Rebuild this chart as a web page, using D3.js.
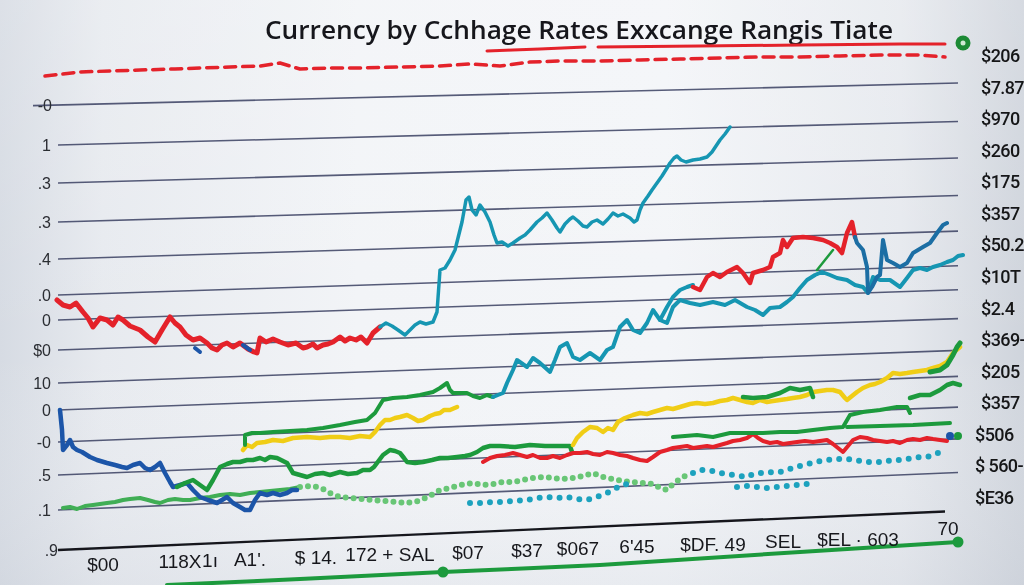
<!DOCTYPE html>
<html><head><meta charset="utf-8">
<script src="https://cdn.jsdelivr.net/npm/d3@7"></script>
<style>html,body{margin:0;padding:0;background:#eef1f5;} svg{display:block}</style>
</head><body><svg id="c" width="1024" height="585"></svg>
<script>
// ---------- data ----------
const titleText = "Currency by Cchhage Rates  Exxcange Rangis Tiate";
const gridValues = [455,415,377,338,301,265,240,210,177,150,118,85,50,10];
const leftLabels = ["-0","1",".3",".3",".4",".0","0","$0","10","0","-0",".5",".1",".9"];
const rightLabels = ["$206","$7.87","$970","$260","$175","$357","$50.2","$10T","$2.4","$369-","$205","$357","$506","$ 560-","$E36"];
const xTickLabels = ["$00","118X","1ı","A1'.","$ 14.","172 + SAL","$07","$37","$067","6'45","$DF. 49","SEL","$EL · 603","70"];
const xTickAt = [48,125,155,195,261,335,413,472,523,582,658,728,803,893];

const redTopLeft = [[2,260],[8,255],[15,253],[21,257],[28,248],[33,242],[38,233],[45,242],[52,240],[58,235],[63,243],[68,240],[75,234],[85,230],[93,223],[100,218],[107,230],[115,243],[120,237],[125,233],[131,225],[138,220],[145,222],[152,217],[157,212],[162,210],[167,215],[172,217],[178,213],[185,217],[193,211],[199,208],[202,207],[205,222],[211,218],[218,221],[225,218],[233,215],[241,217],[248,212],[252,213],[258,216],[262,212],[268,215],[273,216],[278,218],[285,223],[290,219],[295,222],[301,220],[306,223],[312,217],[318,227],[325,233]];
const tealTop = [[325,233],[331,237],[337,234],[343,230],[350,225],[355,230],[360,235],[365,238],[371,236],[378,238],[382,248],[385,290],[390,292],[395,300],[400,310],[403,322],[407,338],[411,360],[414,363],[417,350],[421,345],[425,355],[430,348],[435,338],[439,325],[442,317],[447,318],[453,314],[458,317],[465,322],[470,325],[475,330],[482,338],[487,342],[492,347],[497,340],[502,332],[505,328],[510,336],[515,341],[518,343],[523,339],[528,334],[532,333],[537,338],[542,340],[548,336],[553,341],[558,347],[563,344],[568,346],[575,342],[579,338],[582,340],[585,350],[588,357],[593,364],[597,370],[602,377],[607,384],[612,392],[615,397],[619,402],[622,404],[626,400],[631,398],[638,400],[645,401],[652,403],[657,408],[661,414],[665,420],[670,426],[675,433]];
const tealMid = [[438,163],[448,167],[452,177],[458,190],[462,200],[472,193],[478,202],[485,197],[495,188],[500,200],[505,213],[512,217],[518,203],[525,200],[535,207],[545,200],[552,210],[558,213],[565,233],[572,240],[578,230],[585,227],[592,237],[598,250],[605,240],[612,237],[618,253],[625,260],[635,257],[645,255],[658,258],[670,255],[680,260],[692,253],[700,250],[708,245],[715,252],[725,253],[732,258],[738,263],[745,272],[752,280],[760,285],[767,288],[775,285],[782,282],[792,280],[800,275],[808,273],[813,267],[818,283],[825,280],[835,280],[845,273],[852,282],[858,290],[865,292],[872,290],[878,293],[885,295],[892,298],[898,300],[903,304],[908,305]];
const tealBranch = [[605,240],[612,253],[618,263],[625,270],[632,273],[638,275]];
const redUpper = [[638,273],[645,270],[652,283],[658,287],[665,283],[672,288],[682,293],[688,287],[695,277],[698,287],[708,290],[715,293],[718,303],[725,307],[728,320],[732,313],[738,322],[748,323],[758,322],[768,320],[775,317],[782,313],[787,307],[792,327],[797,338],[800,323]];
const blueUpper = [[800,323],[802,317],[808,310],[812,293],[813,267],[817,273],[822,283],[825,285],[828,320],[832,300],[838,297],[845,293],[852,297],[858,307],[868,313],[875,317],[882,327],[888,335],[892,337]];
const greenTick = [[762,290],[770,300],[778,310]];
const blueLow = [[5,150],[7,130],[8,110],[12,115],[15,120],[18,113],[22,110],[27,108],[35,103],[42,100],[52,97],[60,95],[67,93],[72,92],[78,95],[85,97],[90,92],[95,90],[100,93],[105,97],[110,87],[115,78],[118,73],[125,75],[132,77],[138,70],[145,63],[153,60],[162,57],[167,60],[172,63],[178,57],[185,53],[190,50],[195,50],[200,60],[205,67],[212,65],[218,67],[225,65],[232,67],[237,70],[242,70]];
const blueBits1 = [[140,212],[145,208]];
const blueBits2 = [[188,215],[195,210]];
const greenLow = [[122,73],[130,77],[138,80],[145,75],[152,70],[158,80],[165,93],[172,96],[178,98],[185,98],[192,100],[198,100],[205,102],[210,100],[215,103],[222,102],[228,99],[232,97],[235,92],[238,87],[245,85],[252,83],[260,86],[268,87],[275,85],[285,88],[293,86],[302,87],[308,90],[315,90],[319,93],[322,97],[328,105],[335,110],[340,109],[345,107],[349,102],[352,98],[360,97],[368,98],[377,100],[385,102],[393,102],[402,103],[410,104],[415,105],[422,108],[428,112],[435,114],[445,114],[460,113],[475,115],[490,114],[505,114],[515,114],[517,108]];
const greenUpLeft = [[190,115],[190,125],[197,127],[205,127],[218,128],[235,129],[252,130],[268,132],[285,135],[300,138],[312,140],[320,147],[328,160],[338,162],[352,163],[365,165],[378,168],[385,172],[392,177],[395,170],[398,167],[405,167],[412,167],[418,164],[425,162],[432,165],[438,163]];
const yellowLeft = [[188,110],[192,115],[197,113],[202,117],[210,118],[218,120],[228,119],[238,122],[252,123],[265,122],[275,123],[285,123],[295,122],[305,124],[315,123],[320,128],[325,135],[330,140],[335,140],[340,142],[345,143],[352,145],[358,142],[363,139],[368,140],[375,144],[380,146],[385,147],[389,150],[395,150],[402,153]];
const yellowRight = [[518,115],[522,122],[528,128],[535,133],[542,132],[548,128],[553,132],[558,130],[563,138],[570,142],[578,145],[585,147],[592,146],[598,148],[605,150],[612,152],[618,151],[625,153],[635,156],[642,157],[650,156],[658,157],[665,159],[672,160],[678,162],[685,160],[692,158],[698,157],[705,160],[712,158],[718,159],[725,160],[732,161],[738,162],[745,163],[752,165],[758,168],[765,169],[772,170],[778,170],[785,168],[790,162],[792,160],[797,164],[802,168],[808,172],[815,175],[820,176],[825,178],[832,182],[838,187],[845,186],[852,187],[858,188],[865,189],[872,190],[878,192],[885,194],[892,198],[898,207],[905,213]];
const redLow = [[428,98],[435,102],[442,104],[450,105],[458,107],[465,105],[472,103],[478,105],[485,102],[492,102],[498,104],[505,102],[512,105],[518,107],[525,107],[532,108],[538,106],[545,105],[552,108],[558,107],[565,105],[572,104],[578,102],[585,100],[592,99],[598,103],[605,108],[612,110],[618,112],[625,113],[632,114],[638,112],[645,113],[652,114],[658,113],[665,115],[672,117],[678,119],[685,120],[692,122],[698,126],[703,122],[708,119],[715,117],[722,118],[728,116],[735,117],[742,118],[750,119],[758,118],[765,119],[772,120],[778,116],[783,112],[788,108],[793,114],[798,120],[805,123],[812,122],[818,120],[825,119],[832,118],[838,119],[845,117],[852,120],[858,121],[865,120],[872,122],[878,121],[885,120],[892,119]];
const greenMidA = [[618,123],[642,125],[658,123],[675,127],[692,127],[708,127],[725,128],[742,128],[758,130],[775,132],[788,133],[795,145],[808,148],[825,150],[842,153],[852,153],[855,147]];
const greenMidB = [[792,133],[825,134],[858,135],[895,137]];
const greenHighA = [[688,163],[698,162],[712,163],[725,167],[735,172],[745,170],[755,172],[758,163]];
const greenHighB = [[855,162],[865,165],[875,165],[885,170],[892,175],[898,177],[905,175]];
const greenHighC = [[875,188],[885,190],[892,195],[898,205],[902,213],[905,217]];
const lightGreenSolid = [[8,52],[15,53],[22,51],[30,54],[38,55],[45,56],[52,57],[60,58],[68,60],[75,61],[85,62],[93,60],[100,58],[105,57],[113,60],[120,61],[128,60],[135,60],[145,62],[155,63],[165,65],[175,66],[185,65],[195,67],[205,68],[215,69],[225,70],[235,71],[245,73]];
const lightGreenDots = [[245,73],[255,74],[263,73],[268,71],[275,67],[285,63],[295,62],[305,61],[318,60],[330,59],[340,58],[352,57],[363,59],[373,63],[385,70],[395,72],[405,75],[418,77],[428,75],[438,76],[448,78],[458,78],[468,80],[478,82],[488,83],[498,82],[508,81],[518,82],[528,84],[538,87],[548,83],[558,81],[568,79],[578,78],[588,77],[598,76],[605,72],[612,70],[618,76],[625,81],[632,85]];
const tealDotsA = [[415,57],[425,57],[438,58],[448,58],[458,59],[472,60],[482,62],[492,63],[502,62],[512,63],[522,61],[532,60],[542,63],[552,67],[558,70],[565,74],[572,76],[578,75]];
const tealDotsB = [[638,87],[645,90],[652,90],[658,89],[665,87],[672,86],[678,85],[685,84],[692,83],[698,86],[705,87],[712,87],[718,88],[725,88],[732,90],[738,92],[745,94],[752,96],[758,97],[765,99],[772,100],[778,101],[785,101],[792,101],[798,100],[805,99],[812,98],[818,98],[825,98],[832,99],[838,100],[845,100],[852,101],[858,102],[865,103],[872,103],[878,105],[883,107]];
const tealDotsC = [[682,73],[692,74],[702,73],[712,72],[722,73],[732,74],[742,75],[752,76],[758,76]];
const redDashedTop = [[-10,484],[25,488],[55,489],[85,490],[120,491],[145,492],[175,493],[205,494],[225,497],[245,491],[275,492],[305,492],[345,493],[385,494],[415,496],[445,494],[475,498],[505,499],[545,499],[585,500],[625,501],[665,502],[705,503],[745,503],[785,504],[825,505],[865,505],[890,503]];
const redTitleA = [[432,509],[485,511],[530,513]];
const redTitleB = [[543,513],[645,514],[745,515],[845,516],[890,516]];
const greenBase = [[112,-25],[245,-19],[388,-12],[545,-5],[745,8],[903,18]];
const greenBaseDots = [[388,-12],[903,18]];
const endDotsBlue = [[895,124]];
const endDotsGreen = [[903,124]];
const topGreenDot = [[908,517]];

// ---------- drawing ----------
const svg = d3.select("#c");
const W = 1024, H = 585;
const defs = svg.append("defs");
const bg = defs.append("linearGradient").attr("id","bg").attr("x1","0").attr("x2","1").attr("y1","0").attr("y2","0");
[["0%","#d6dbe3"],["10%","#e7eaef"],["35%","#f2f4f7"],["65%","#f3f5f8"],["88%","#e6e9ee"],["100%","#cfd4dc"]].forEach(s=>bg.append("stop").attr("offset",s[0]).attr("stop-color",s[1]));
const bgv = defs.append("linearGradient").attr("id","bgv").attr("x1","0").attr("x2","0").attr("y1","0").attr("y2","1");
[["0%","#ffffff",0.15],["60%","#ffffff",0],["100%","#c9ced8",0.25]].forEach(s=>bgv.append("stop").attr("offset",s[0]).attr("stop-color",s[1]).attr("stop-opacity",s[2]));
const soft = defs.append("filter").attr("id","soft").attr("x","-5%").attr("y","-5%").attr("width","110%").attr("height","110%");
soft.append("feGaussianBlur").attr("stdDeviation",0.6);
const softT = defs.append("filter").attr("id","softT");
softT.append("feGaussianBlur").attr("stdDeviation",0.35);

svg.append("rect").attr("width",W).attr("height",H).attr("fill","url(#bg)");
svg.append("rect").attr("width",W).attr("height",H).attr("fill","url(#bgv)");

const x = d3.scaleLinear().domain([-15, 910]).range([40, 965]);
const y = d3.scaleLinear().domain([0, 500]).range([560, 60]);
const gx0 = x(3), gx1 = x(903);
const skew = d3.scaleLinear().domain([y(455), y(10)]).range([22, 39]);
const tiltY = (px, py) => py - skew(py) * (px - gx0) / (gx1 - gx0);

// gridlines
const gridG = svg.append("g").attr("filter","url(#soft)");
gridValues.forEach((g,i)=>{
  const py = y(g);
  const last = i === gridValues.length-1;
  const xa = i===0 ? 33 : gx0;
  const xb = last ? x(890) : gx1;
  gridG.append("line")
    .attr("x1", xa).attr("y1", tiltY(xa, py))
    .attr("x2", xb).attr("y2", tiltY(xb, py))
    .attr("stroke", last ? "#16181f" : "#3a4062")
    .attr("stroke-width", last ? 2.4 : 1.6)
    .attr("stroke-opacity", last ? 1 : 0.85);
});

// left labels
const leftG = svg.append("g").attr("filter","url(#softT)");
leftLabels.forEach((t,i)=>{
  const py = y(gridValues[i]);
  leftG.append("text")
    .attr("x", i===0 ? 52 : (i===gridValues.length-1 ? 58 : 51))
    .attr("y", py + 6)
    .attr("text-anchor","end")
    .attr("font-family","Liberation Sans, Arial, sans-serif")
    .attr("font-size",16)
    .attr("fill","#2b2d33")
    .text(t);
});

// title
svg.append("text")
  .attr("x",265).attr("y",39)
  .attr("textLength",628).attr("lengthAdjust","spacingAndGlyphs")
  .attr("font-family","Open Sans, sans-serif").attr("font-weight",600)
  .attr("font-size",26).attr("fill","#15161a")
  .attr("filter","url(#softT)")
  .text(titleText);

// marks
const line = d3.line().x(d=>x(d[0])).y(d=>y(d[1]));
const C = {red:"#e4222c", teal:"#1796b2", tealDark:"#1b6ea4", blue:"#1b55a8", green:"#1f9a3d", yellow:"#f0cd18", lgreen:"#68c676", tdot:"#1ea2be", medgreen:"#3fae55"};
const series = [
  {d: redDashedTop, c: C.red, w: 3.5, dash: "11 7"},
  {d: redTitleA, c: C.red, w: 3},
  {d: redTitleB, c: C.red, w: 3},
  {d: lightGreenSolid, c: C.medgreen, w: 4},
  {d: lightGreenDots, c: C.lgreen, w: 6, dash: "0 8"},
  {d: tealDotsA, c: C.tdot, w: 6, dash: "0 10"},
  {d: tealDotsB, c: C.tdot, w: 6, dash: "0 10"},
  {d: tealDotsC, c: C.tdot, w: 6, dash: "0 10"},
  {d: blueLow, c: C.blue, w: 4.5},
  {d: greenLow, c: C.green, w: 4.5},
  {d: redLow, c: C.red, w: 4},
  {d: greenMidA, c: C.green, w: 4},
  {d: greenMidB, c: C.green, w: 4},
  {d: yellowLeft, c: C.yellow, w: 4.5},
  {d: yellowRight, c: C.yellow, w: 4.5},
  {d: greenUpLeft, c: C.green, w: 4},
  {d: greenHighA, c: C.green, w: 4.5},
  {d: greenHighB, c: C.green, w: 4.5},
  {d: greenHighC, c: C.green, w: 5},
  {d: tealMid, c: C.teal, w: 4},
  {d: tealBranch, c: C.teal, w: 4},
  {d: redTopLeft, c: C.red, w: 5},
  {d: blueBits1, c: C.blue, w: 4},
  {d: blueBits2, c: C.blue, w: 4},
  {d: tealTop, c: C.teal, w: 3.5},
  {d: redUpper, c: C.red, w: 4.5},
  {d: blueUpper, c: C.tealDark, w: 4},
  {d: greenTick, c: C.green, w: 2.5},
  {d: greenBase, c: C.green, w: 4}
];
const markG = svg.append("g").attr("filter","url(#soft)");
series.forEach(s=>{
  markG.append("path").attr("d", line(s.d))
    .attr("fill","none").attr("stroke", s.c).attr("stroke-width", s.w)
    .attr("stroke-linejoin","round").attr("stroke-linecap","round")
    .attr("stroke-dasharray", s.dash || null);
});
markG.selectAll("circle.gb").data(greenBaseDots).join("circle")
  .attr("cx",d=>x(d[0])).attr("cy",d=>y(d[1])).attr("r",5.5).attr("fill",C.green);
markG.selectAll("circle.eb").data(endDotsBlue).join("circle").attr("class","eb")
  .attr("cx",d=>x(d[0])).attr("cy",d=>y(d[1])).attr("r",4).attr("fill",C.blue);
markG.selectAll("circle.eg").data(endDotsGreen).join("circle").attr("class","eg")
  .attr("cx",d=>x(d[0])).attr("cy",d=>y(d[1])).attr("r",4).attr("fill",C.green);
markG.selectAll("circle.tg").data(topGreenDot).join("circle").attr("class","tg")
  .attr("cx",d=>x(d[0])).attr("cy",d=>y(d[1])).attr("r",7.5).attr("fill","#1d8a35");
markG.selectAll("circle.tgi").data(topGreenDot).join("circle").attr("class","tgi")
  .attr("cx",d=>x(d[0])).attr("cy",d=>y(d[1])).attr("r",2.5).attr("fill","#cfe9d3");

// right labels
const rY = d3.scalePoint().domain(rightLabels.map((d,i)=>i)).range([55, 497]);
const rightG = svg.append("g").attr("filter","url(#softT)");
rightLabels.forEach((t,i)=>{
  rightG.append("text")
    .attr("x", i>=12 ? 975 : 981).attr("y", rY(i)+7)
    .attr("font-family","Roboto, sans-serif").attr("font-weight",500)
    .attr("font-size",18).attr("letter-spacing",-0.6)
    .attr("fill","#141518").text(t);
});

// bottom labels
const baseY = d3.scaleLinear().domain([48, 803]).range([571, 546]);
const botG = svg.append("g").attr("filter","url(#softT)");
xTickLabels.forEach((t,i)=>{
  const last = i === xTickLabels.length-1;
  botG.append("text")
    .attr("x", x(xTickAt[i])).attr("y", baseY(xTickAt[i]) - (last ? 8 : 0))
    .attr("text-anchor","middle")
    .attr("font-family","Liberation Sans, Arial, sans-serif")
    .attr("font-size",19).attr("fill","#17181c")
    .text(t);
});
</script>
</body></html>
